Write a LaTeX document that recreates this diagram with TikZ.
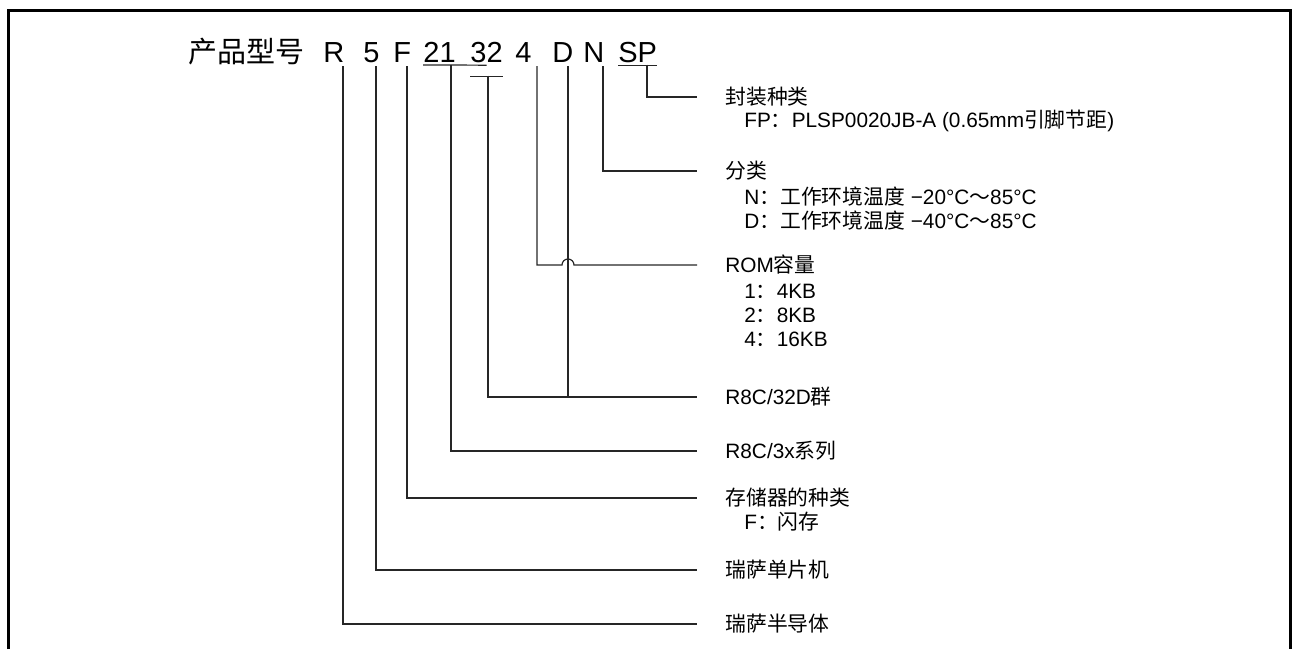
\documentclass[tikz,border=0pt]{standalone}
\usepackage{fontspec}
\setmainfont{Liberation Sans}
\newfontfamily\cjk{Noto Sans CJK SC}
\tikzset{
  code/.style={anchor=base west, inner sep=0pt, font=\fontsize{14.5}{16}\selectfont},
  lab/.style={anchor=west, inner xsep=14pt, inner ysep=0pt, font=\fontsize{10.4}{12}\selectfont},
  sub/.style={anchor=west, inner sep=0pt, font=\fontsize{10.4}{12}\selectfont},
  lead/.style={line width=0.6pt, black!85}
}
\begin{document}
\begin{tikzpicture}[x=0.5pt, y=-0.5pt]
            \useasboundingbox (0,0) rectangle (1292,649);
            \draw[line width=1.5pt] (8.5,649) -- (8.5,10.5) -- (1290.5,10.5) -- (1290.5,649);

            % type number
            \node[code] (pm) at (188,62.5) {\cjk 产品型号};
            \node[code] (r) at (323,62.5) {R};
            \node[code] (five) at (363,62.5) {5};
            \node[code] (f) at (393,62.5) {F};
            \node[code] (n21) at (423,62.5) {21};
            \node[code] (n32) at (470,62.5) {32};
            \node[code] (four) at (515,62.5) {4};
            \node[code] (d) at (552,62.5) {D};
            \node[code] (n) at (583,62.5) {N};
            \node[code] (sp) at (618,62.5) {SP};
            \draw[lead] ([yshift=-1pt]n21.south west) -- ([yshift=-1pt]n32.south);
            \draw[lead] ([yshift=-6.5pt]n32.south west) -- ([yshift=-6.5pt]n32.south east);
            \draw[lead] ([yshift=-1pt]sp.south west) -- ([yshift=-1pt]sp.south east);

            \coordinate (tr) at (343,66);
            \coordinate (t5) at (376,66);
            \coordinate (tf) at (407,66);
            \coordinate (t21) at (451,64.5);
            \coordinate (t32) at (488,75.5);
            \coordinate (t4) at (537,66);
            \coordinate (td) at (568,66);
            \coordinate (tn) at (603,66);
            \coordinate (tsp) at (647,64.5);

            % labels
            \node[lab] (lsp) at (697,97) {\cjk 封装种类};
            \node[sub] (fp) at (744,121) {FP{\cjk ：}PLSP0020JB-A (0.65mm{\cjk 引脚节距})};
            \node[lab] (ln) at (697,171) {\cjk 分类};
            \node[sub] (tn20) at (744,197) {N{\cjk ：工作环境温度} −20°C{\cjk ～}85°C};
            \node[sub] (td40) at (744,221) {D{\cjk ：工作环境温度} −40°C{\cjk ～}85°C};
            \node[lab] (lrom) at (697,265) {ROM{\cjk 容量}};
            \node[sub] (k4) at (744,291) {1{\cjk ：}4KB};
            \node[sub] (k8) at (744,315) {2{\cjk ：}8KB};
            \node[sub] (k16) at (744,339) {4{\cjk ：}16KB};
            \node[lab] (l32) at (697,397) {R8C/32D{\cjk 群}};
            \node[lab] (l3x) at (697,451) {R8C/3x{\cjk 系列}};
            \node[lab] (lf) at (697,498) {\cjk 存储器的种类};
            \node[sub] (flash) at (744,522) {F{\cjk ：闪存}};
            \node[lab] (l5) at (697,570) {\cjk 瑞萨单片机};
            \node[lab] (lr) at (697,624) {\cjk 瑞萨半导体};

            \draw[lead] (tsp) |- (lsp);
            \draw[lead] (tn) |- (ln);
            \draw[lead] (t4) |- (562,265) arc[start angle=180, end angle=0, radius=3pt] -- (lrom);
            \draw[lead] (td) -- (td |- l32.west);
            \draw[lead] (t32) |- (l32);
            \draw[lead] (t21) |- (l3x);
            \draw[lead] (tf) |- (lf);
            \draw[lead] (t5) |- (l5);
            \draw[lead] (tr) |- (lr);
        \end{tikzpicture}
\end{document}
